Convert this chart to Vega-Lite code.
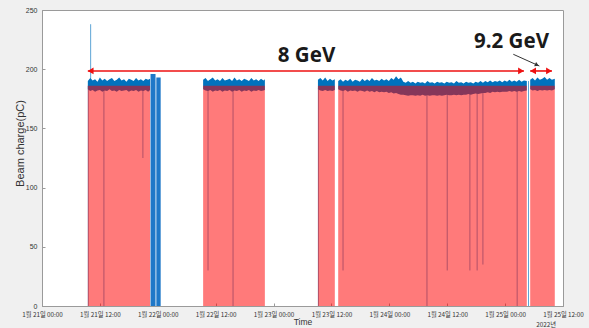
{
  "$schema": "https://vega.github.io/schema/vega-lite/v6.json",
  "width": 521,
  "height": 296,
  "autosize": "none",
  "padding": {"left": 42, "top": 10, "right": 26, "bottom": 22},
  "background": "#f0f0f0",
  "config": {
    "view": {"fill": "white", "stroke": "#9a9a9a", "strokeWidth": 1},
    "axis": {"grid": false, "domainColor": "#9a9a9a", "tickColor": "#9a9a9a", "labelColor": "#333333", "titleColor": "#333333", "titleFontWeight": "normal"}
  },
  "datasets": {
    "band": [
      {"seg": "A", "t": "2022-01-21T09:30Z", "hi": 190, "lo": 183},
      {"seg": "A", "t": "2022-01-21T10:00Z", "hi": 192.5, "lo": 181.5},
      {"seg": "A", "t": "2022-01-21T10:30Z", "hi": 190.5, "lo": 182.5},
      {"seg": "A", "t": "2022-01-21T11:00Z", "hi": 191.5, "lo": 181},
      {"seg": "A", "t": "2022-01-21T11:30Z", "hi": 189.5, "lo": 182},
      {"seg": "A", "t": "2022-01-21T12:00Z", "hi": 193, "lo": 182.5},
      {"seg": "A", "t": "2022-01-21T12:30Z", "hi": 190.5, "lo": 181},
      {"seg": "A", "t": "2022-01-21T13:00Z", "hi": 192, "lo": 182},
      {"seg": "A", "t": "2022-01-21T13:30Z", "hi": 190, "lo": 181.5},
      {"seg": "A", "t": "2022-01-21T14:00Z", "hi": 191.5, "lo": 183},
      {"seg": "A", "t": "2022-01-21T14:30Z", "hi": 192.5, "lo": 181.5},
      {"seg": "A", "t": "2022-01-21T15:00Z", "hi": 190, "lo": 182},
      {"seg": "A", "t": "2022-01-21T15:30Z", "hi": 191, "lo": 181},
      {"seg": "A", "t": "2022-01-21T16:00Z", "hi": 193, "lo": 182.5},
      {"seg": "A", "t": "2022-01-21T16:30Z", "hi": 190.5, "lo": 181.5},
      {"seg": "A", "t": "2022-01-21T17:00Z", "hi": 191.5, "lo": 182},
      {"seg": "A", "t": "2022-01-21T17:30Z", "hi": 189.5, "lo": 182.5},
      {"seg": "A", "t": "2022-01-21T18:00Z", "hi": 192, "lo": 181},
      {"seg": "A", "t": "2022-01-21T18:30Z", "hi": 191, "lo": 182},
      {"seg": "A", "t": "2022-01-21T19:00Z", "hi": 190, "lo": 181.5},
      {"seg": "A", "t": "2022-01-21T19:30Z", "hi": 192.5, "lo": 182.5},
      {"seg": "A", "t": "2022-01-21T20:00Z", "hi": 190.5, "lo": 181},
      {"seg": "A", "t": "2022-01-21T20:30Z", "hi": 191.5, "lo": 182},
      {"seg": "A", "t": "2022-01-21T21:00Z", "hi": 190, "lo": 181.5},
      {"seg": "A", "t": "2022-01-21T21:30Z", "hi": 192, "lo": 182.5},
      {"seg": "A", "t": "2022-01-21T22:00Z", "hi": 191, "lo": 181},
      {"seg": "A", "t": "2022-01-21T22:24Z", "hi": 192, "lo": 182.5},
      {"seg": "B", "t": "2022-01-22T09:24Z", "hi": 191, "lo": 183},
      {"seg": "B", "t": "2022-01-22T09:54Z", "hi": 192.5, "lo": 182},
      {"seg": "B", "t": "2022-01-22T10:24Z", "hi": 190, "lo": 181.5},
      {"seg": "B", "t": "2022-01-22T10:54Z", "hi": 191.5, "lo": 182.5},
      {"seg": "B", "t": "2022-01-22T11:24Z", "hi": 193, "lo": 181},
      {"seg": "B", "t": "2022-01-22T11:54Z", "hi": 190.5, "lo": 182},
      {"seg": "B", "t": "2022-01-22T12:24Z", "hi": 191.5, "lo": 181.5},
      {"seg": "B", "t": "2022-01-22T12:54Z", "hi": 190, "lo": 182.5},
      {"seg": "B", "t": "2022-01-22T13:24Z", "hi": 192.5, "lo": 181},
      {"seg": "B", "t": "2022-01-22T13:54Z", "hi": 190.5, "lo": 182},
      {"seg": "B", "t": "2022-01-22T14:24Z", "hi": 191, "lo": 181.5},
      {"seg": "B", "t": "2022-01-22T14:54Z", "hi": 192, "lo": 182.5},
      {"seg": "B", "t": "2022-01-22T15:24Z", "hi": 190, "lo": 181},
      {"seg": "B", "t": "2022-01-22T15:54Z", "hi": 193, "lo": 182},
      {"seg": "B", "t": "2022-01-22T16:24Z", "hi": 190.5, "lo": 181.5},
      {"seg": "B", "t": "2022-01-22T16:54Z", "hi": 191.5, "lo": 182.5},
      {"seg": "B", "t": "2022-01-22T17:24Z", "hi": 190, "lo": 181},
      {"seg": "B", "t": "2022-01-22T17:54Z", "hi": 192, "lo": 182},
      {"seg": "B", "t": "2022-01-22T18:24Z", "hi": 191, "lo": 181.5},
      {"seg": "B", "t": "2022-01-22T18:54Z", "hi": 190, "lo": 182.5},
      {"seg": "B", "t": "2022-01-22T19:24Z", "hi": 192.5, "lo": 181},
      {"seg": "B", "t": "2022-01-22T19:54Z", "hi": 190.5, "lo": 182},
      {"seg": "B", "t": "2022-01-22T20:24Z", "hi": 191.5, "lo": 181.5},
      {"seg": "B", "t": "2022-01-22T20:54Z", "hi": 190, "lo": 182.5},
      {"seg": "B", "t": "2022-01-22T21:24Z", "hi": 192, "lo": 181.5},
      {"seg": "B", "t": "2022-01-22T21:54Z", "hi": 190.5, "lo": 182},
      {"seg": "B", "t": "2022-01-22T22:12Z", "hi": 191.5, "lo": 182.5},
      {"seg": "C", "t": "2022-01-23T09:12Z", "hi": 191, "lo": 183},
      {"seg": "C", "t": "2022-01-23T09:42Z", "hi": 192.5, "lo": 182},
      {"seg": "C", "t": "2022-01-23T10:12Z", "hi": 190.5, "lo": 181.5},
      {"seg": "C", "t": "2022-01-23T10:42Z", "hi": 193, "lo": 182.5},
      {"seg": "C", "t": "2022-01-23T11:12Z", "hi": 190, "lo": 181.5},
      {"seg": "C", "t": "2022-01-23T11:42Z", "hi": 192, "lo": 182},
      {"seg": "C", "t": "2022-01-23T12:12Z", "hi": 190.5, "lo": 181.5},
      {"seg": "C", "t": "2022-01-23T12:42Z", "hi": 191.5, "lo": 182.5},
      {"seg": "D", "t": "2022-01-23T13:24Z", "hi": 190, "lo": 183},
      {"seg": "D", "t": "2022-01-23T13:54Z", "hi": 191.5, "lo": 182},
      {"seg": "D", "t": "2022-01-23T14:24Z", "hi": 189.5, "lo": 181.5},
      {"seg": "D", "t": "2022-01-23T14:54Z", "hi": 191, "lo": 182.5},
      {"seg": "D", "t": "2022-01-23T15:24Z", "hi": 190, "lo": 181},
      {"seg": "D", "t": "2022-01-23T15:54Z", "hi": 192, "lo": 182},
      {"seg": "D", "t": "2022-01-23T16:24Z", "hi": 189.5, "lo": 181.5},
      {"seg": "D", "t": "2022-01-23T16:54Z", "hi": 191, "lo": 182},
      {"seg": "D", "t": "2022-01-23T17:24Z", "hi": 190.5, "lo": 181},
      {"seg": "D", "t": "2022-01-23T17:54Z", "hi": 189.5, "lo": 182},
      {"seg": "D", "t": "2022-01-23T18:24Z", "hi": 192, "lo": 181.5},
      {"seg": "D", "t": "2022-01-23T18:54Z", "hi": 190, "lo": 181},
      {"seg": "D", "t": "2022-01-23T19:24Z", "hi": 191.5, "lo": 182},
      {"seg": "D", "t": "2022-01-23T19:54Z", "hi": 190, "lo": 181},
      {"seg": "D", "t": "2022-01-23T20:24Z", "hi": 192.5, "lo": 181.5},
      {"seg": "D", "t": "2022-01-23T20:54Z", "hi": 190.5, "lo": 180.5},
      {"seg": "D", "t": "2022-01-23T21:24Z", "hi": 191, "lo": 181.5},
      {"seg": "D", "t": "2022-01-23T21:54Z", "hi": 190, "lo": 180.5},
      {"seg": "D", "t": "2022-01-23T22:24Z", "hi": 192, "lo": 181},
      {"seg": "D", "t": "2022-01-23T22:54Z", "hi": 190.5, "lo": 180.5},
      {"seg": "D", "t": "2022-01-23T23:24Z", "hi": 191.5, "lo": 181},
      {"seg": "D", "t": "2022-01-23T23:54Z", "hi": 190, "lo": 180},
      {"seg": "D", "t": "2022-01-24T00:24Z", "hi": 192.5, "lo": 180.5},
      {"seg": "D", "t": "2022-01-24T00:54Z", "hi": 191, "lo": 179.5},
      {"seg": "D", "t": "2022-01-24T01:24Z", "hi": 194, "lo": 180},
      {"seg": "D", "t": "2022-01-24T01:54Z", "hi": 191.5, "lo": 179},
      {"seg": "D", "t": "2022-01-24T02:24Z", "hi": 193, "lo": 178.5},
      {"seg": "D", "t": "2022-01-24T02:54Z", "hi": 189.5, "lo": 178.5},
      {"seg": "D", "t": "2022-01-24T03:24Z", "hi": 188.5, "lo": 178},
      {"seg": "D", "t": "2022-01-24T03:54Z", "hi": 190, "lo": 177.5},
      {"seg": "D", "t": "2022-01-24T04:24Z", "hi": 188.5, "lo": 178},
      {"seg": "D", "t": "2022-01-24T04:54Z", "hi": 189.5, "lo": 178},
      {"seg": "D", "t": "2022-01-24T05:24Z", "hi": 188, "lo": 177.5},
      {"seg": "D", "t": "2022-01-24T05:54Z", "hi": 189.5, "lo": 178},
      {"seg": "D", "t": "2022-01-24T06:24Z", "hi": 188.5, "lo": 177.5},
      {"seg": "D", "t": "2022-01-24T06:54Z", "hi": 189, "lo": 178.5},
      {"seg": "D", "t": "2022-01-24T07:24Z", "hi": 188, "lo": 177.5},
      {"seg": "D", "t": "2022-01-24T07:54Z", "hi": 190, "lo": 178},
      {"seg": "D", "t": "2022-01-24T08:24Z", "hi": 188.5, "lo": 177.5},
      {"seg": "D", "t": "2022-01-24T08:54Z", "hi": 189, "lo": 178},
      {"seg": "D", "t": "2022-01-24T09:24Z", "hi": 188, "lo": 178},
      {"seg": "D", "t": "2022-01-24T09:54Z", "hi": 189.5, "lo": 177.5},
      {"seg": "D", "t": "2022-01-24T10:24Z", "hi": 188.5, "lo": 178},
      {"seg": "D", "t": "2022-01-24T10:54Z", "hi": 189, "lo": 177.5},
      {"seg": "D", "t": "2022-01-24T11:24Z", "hi": 188, "lo": 178},
      {"seg": "D", "t": "2022-01-24T11:54Z", "hi": 189.5, "lo": 178.5},
      {"seg": "D", "t": "2022-01-24T12:24Z", "hi": 188.5, "lo": 178},
      {"seg": "D", "t": "2022-01-24T12:54Z", "hi": 189, "lo": 178},
      {"seg": "D", "t": "2022-01-24T13:24Z", "hi": 188, "lo": 178.5},
      {"seg": "D", "t": "2022-01-24T13:54Z", "hi": 190, "lo": 178},
      {"seg": "D", "t": "2022-01-24T14:24Z", "hi": 188.5, "lo": 178.5},
      {"seg": "D", "t": "2022-01-24T14:54Z", "hi": 189, "lo": 178},
      {"seg": "D", "t": "2022-01-24T15:24Z", "hi": 188, "lo": 178.5},
      {"seg": "D", "t": "2022-01-24T15:54Z", "hi": 189.5, "lo": 178.5},
      {"seg": "D", "t": "2022-01-24T16:24Z", "hi": 188.5, "lo": 179},
      {"seg": "D", "t": "2022-01-24T16:54Z", "hi": 189, "lo": 178.5},
      {"seg": "D", "t": "2022-01-24T17:24Z", "hi": 188, "lo": 179},
      {"seg": "D", "t": "2022-01-24T17:54Z", "hi": 189.5, "lo": 179.5},
      {"seg": "D", "t": "2022-01-24T18:24Z", "hi": 188.5, "lo": 179},
      {"seg": "D", "t": "2022-01-24T18:54Z", "hi": 190, "lo": 179.5},
      {"seg": "D", "t": "2022-01-24T19:24Z", "hi": 188.5, "lo": 180},
      {"seg": "D", "t": "2022-01-24T19:54Z", "hi": 190, "lo": 180},
      {"seg": "D", "t": "2022-01-24T20:24Z", "hi": 189, "lo": 180.5},
      {"seg": "D", "t": "2022-01-24T20:54Z", "hi": 190.5, "lo": 180},
      {"seg": "D", "t": "2022-01-24T21:24Z", "hi": 189, "lo": 181},
      {"seg": "D", "t": "2022-01-24T21:54Z", "hi": 190, "lo": 180.5},
      {"seg": "D", "t": "2022-01-24T22:24Z", "hi": 189.5, "lo": 181},
      {"seg": "D", "t": "2022-01-24T22:54Z", "hi": 190.5, "lo": 180.5},
      {"seg": "D", "t": "2022-01-24T23:24Z", "hi": 189, "lo": 181},
      {"seg": "D", "t": "2022-01-24T23:54Z", "hi": 190.5, "lo": 181},
      {"seg": "D", "t": "2022-01-25T00:24Z", "hi": 189.5, "lo": 181},
      {"seg": "D", "t": "2022-01-25T00:54Z", "hi": 191, "lo": 181.5},
      {"seg": "D", "t": "2022-01-25T01:24Z", "hi": 189.5, "lo": 181},
      {"seg": "D", "t": "2022-01-25T01:54Z", "hi": 190.5, "lo": 181.5},
      {"seg": "D", "t": "2022-01-25T02:24Z", "hi": 189.5, "lo": 181},
      {"seg": "D", "t": "2022-01-25T02:54Z", "hi": 191, "lo": 181.5},
      {"seg": "D", "t": "2022-01-25T03:24Z", "hi": 189.5, "lo": 181},
      {"seg": "D", "t": "2022-01-25T03:54Z", "hi": 190.5, "lo": 181.5},
      {"seg": "D", "t": "2022-01-25T04:30Z", "hi": 190, "lo": 182},
      {"seg": "E", "t": "2022-01-25T05:12Z", "hi": 191, "lo": 183},
      {"seg": "E", "t": "2022-01-25T05:42Z", "hi": 192.5, "lo": 182},
      {"seg": "E", "t": "2022-01-25T06:12Z", "hi": 190.5, "lo": 182.5},
      {"seg": "E", "t": "2022-01-25T06:42Z", "hi": 193, "lo": 181.5},
      {"seg": "E", "t": "2022-01-25T07:12Z", "hi": 191, "lo": 182.5},
      {"seg": "E", "t": "2022-01-25T07:42Z", "hi": 192, "lo": 182},
      {"seg": "E", "t": "2022-01-25T08:12Z", "hi": 193.5, "lo": 182.5},
      {"seg": "E", "t": "2022-01-25T08:42Z", "hi": 191, "lo": 182},
      {"seg": "E", "t": "2022-01-25T09:12Z", "hi": 192.5, "lo": 182.5},
      {"seg": "E", "t": "2022-01-25T09:42Z", "hi": 191, "lo": 182},
      {"seg": "E", "t": "2022-01-25T10:18Z", "hi": 192, "lo": 183}
    ],
    "beam": [
      {"t": "2022-01-21T09:30Z", "t2": "2022-01-21T22:24Z", "top": 186},
      {"t": "2022-01-22T09:24Z", "t2": "2022-01-22T22:12Z", "top": 186},
      {"t": "2022-01-23T09:12Z", "t2": "2022-01-23T12:42Z", "top": 186},
      {"t": "2022-01-23T13:24Z", "t2": "2022-01-25T04:30Z", "top": 186},
      {"t": "2022-01-25T05:12Z", "t2": "2022-01-25T10:18Z", "top": 186}
    ],
    "strips": [
      {"t": "2022-01-21T22:30Z", "t2": "2022-01-21T23:32Z", "top": 196},
      {"t": "2022-01-21T23:42Z", "t2": "2022-01-22T00:36Z", "top": 193}
    ],
    "dips": [
      {"t": "2022-01-21T09:36Z", "lo": 0, "hi": 186},
      {"t": "2022-01-21T10:05Z", "lo": 186, "hi": 238},
      {"t": "2022-01-21T12:50Z", "lo": 0, "hi": 184},
      {"t": "2022-01-21T20:55Z", "lo": 125, "hi": 184},
      {"t": "2022-01-22T10:25Z", "lo": 30, "hi": 184},
      {"t": "2022-01-22T15:36Z", "lo": 0, "hi": 184},
      {"t": "2022-01-23T09:18Z", "lo": 0, "hi": 184},
      {"t": "2022-01-23T14:24Z", "lo": 30, "hi": 184},
      {"t": "2022-01-24T07:48Z", "lo": 0, "hi": 184},
      {"t": "2022-01-24T12:00Z", "lo": 30, "hi": 184},
      {"t": "2022-01-24T16:42Z", "lo": 30, "hi": 184},
      {"t": "2022-01-24T18:12Z", "lo": 30, "hi": 184},
      {"t": "2022-01-24T19:24Z", "lo": 35, "hi": 184},
      {"t": "2022-01-25T02:30Z", "lo": 0, "hi": 184},
      {"t": "2022-01-25T04:51Z", "lo": 0, "hi": 190}
    ],
    "arrows": [
      {"seg": "8 GeV", "t": "2022-01-21T09:30Z", "v": 198.5},
      {"seg": "8 GeV", "t": "2022-01-25T03:54Z", "v": 198.5},
      {"seg": "9.2 GeV", "t": "2022-01-25T05:12Z", "v": 198.5},
      {"seg": "9.2 GeV", "t": "2022-01-25T09:42Z", "v": 198.5}
    ],
    "heads": [
      {"t": "2022-01-21T10:05Z", "v": 198.5, "dir": "left"},
      {"t": "2022-01-25T03:18Z", "v": 198.5, "dir": "right"},
      {"t": "2022-01-25T05:48Z", "v": 198.5, "dir": "left"},
      {"t": "2022-01-25T09:06Z", "v": 198.5, "dir": "right"}
    ],
    "pointer": [
      {"t": "2022-01-25T01:42Z", "v": 212.6},
      {"t": "2022-01-25T07:06Z", "v": 202.7}
    ],
    "pointerHead": [
      {"t": "2022-01-25T06:36Z", "v": 203.6}
    ],
    "labels": [
      {"t": "2022-01-23T06:50Z", "v": 206, "text": "8 GeV"},
      {"t": "2022-01-25T01:20Z", "v": 217.7, "text": "9.2 GeV"}
    ],
    "axisNote": [
      {"t": "2022-01-25T08:30Z", "v": -16.3, "text": "2022년"}
    ]
  },
  "layer": [
    {
      "data": {"name": "band"},
      "mark": {"type": "area", "color": "#0072bd", "opacity": 1},
      "encoding": {
        "x": {
          "field": "t", "type": "temporal",
          "scale": {"type": "utc", "nice": false, "domain": [
            {"year": 2022, "month": 1, "date": 21, "hours": 0, "utc": true},
            {"year": 2022, "month": 1, "date": 25, "hours": 12, "utc": true}
          ]},
          "axis": {
            "title": "Time", "titleFont": "Liberation Sans", "titleFontSize": 8.5, "titlePadding": 0,
            "labelFont": "Noto Sans CJK KR", "labelFontSize": 6.3, "labelPadding": 8, "tickSize": -3,
            "labelOverlap": false, "labelFlush": false,
            "values": [
              {"year": 2022, "month": 1, "date": 21, "hours": 0, "utc": true},
              {"year": 2022, "month": 1, "date": 21, "hours": 12, "utc": true},
              {"year": 2022, "month": 1, "date": 22, "hours": 0, "utc": true},
              {"year": 2022, "month": 1, "date": 22, "hours": 12, "utc": true},
              {"year": 2022, "month": 1, "date": 23, "hours": 0, "utc": true},
              {"year": 2022, "month": 1, "date": 23, "hours": 12, "utc": true},
              {"year": 2022, "month": 1, "date": 24, "hours": 0, "utc": true},
              {"year": 2022, "month": 1, "date": 24, "hours": 12, "utc": true},
              {"year": 2022, "month": 1, "date": 25, "hours": 0, "utc": true},
              {"year": 2022, "month": 1, "date": 25, "hours": 12, "utc": true}
            ],
            "labelExpr": "utcFormat(datum.value, '%-m') + '월 ' + utcFormat(datum.value, '%-d') + '일 ' + utcFormat(datum.value, '%H:%M')"
          }
        },
        "y": {
          "field": "hi", "type": "quantitative",
          "scale": {"domain": [0, 250], "nice": false},
          "axis": {
            "title": "Beam charge(pC)", "titleFont": "Liberation Sans", "titleFontSize": 11, "titlePadding": 0, "titleY": 133,
            "labelFont": "Liberation Sans", "labelFontSize": 7, "labelPadding": 8, "tickSize": -3,
            "values": [0, 50, 100, 150, 200, 250]
          }
        },
        "y2": {"field": "lo"},
        "detail": {"field": "seg"}
      }
    },
    {
      "mark": {"type": "rule", "color": "#3d8fd1", "strokeWidth": 1.2},
      "encoding": {"y": {"datum": 0}}
    },
    {
      "data": {"name": "dips"},
      "mark": {"type": "rule", "color": "#0072bd", "strokeWidth": 0.8, "opacity": 0.8},
      "encoding": {
        "x": {"field": "t", "type": "temporal"},
        "y": {"field": "lo", "type": "quantitative"},
        "y2": {"field": "hi"}
      }
    },
    {
      "data": {"name": "strips"},
      "mark": {"type": "rect", "color": "#1f78c8"},
      "encoding": {
        "x": {"field": "t", "type": "temporal"},
        "x2": {"field": "t2"},
        "y": {"field": "top", "type": "quantitative"},
        "y2": {"datum": 0}
      }
    },
    {
      "data": {"name": "beam"},
      "mark": {"type": "rect", "color": "#ff0000", "opacity": 0.52},
      "encoding": {
        "x": {"field": "t", "type": "temporal"},
        "x2": {"field": "t2"},
        "y": {"field": "top", "type": "quantitative"},
        "y2": {"datum": 0}
      }
    },
    {
      "data": {"name": "arrows"},
      "mark": {"type": "line", "color": "#ee1111", "strokeWidth": 1.6},
      "encoding": {
        "x": {"field": "t", "type": "temporal"},
        "y": {"field": "v", "type": "quantitative"},
        "detail": {"field": "seg"}
      }
    },
    {
      "data": {"name": "heads"},
      "transform": [{"filter": "datum.dir === 'left'"}],
      "mark": {"type": "point", "shape": "triangle-left", "filled": true, "color": "#ee1111", "opacity": 1, "size": 45},
      "encoding": {
        "x": {"field": "t", "type": "temporal"},
        "y": {"field": "v", "type": "quantitative"}
      }
    },
    {
      "data": {"name": "heads"},
      "transform": [{"filter": "datum.dir === 'right'"}],
      "mark": {"type": "point", "shape": "triangle-right", "filled": true, "color": "#ee1111", "opacity": 1, "size": 45},
      "encoding": {
        "x": {"field": "t", "type": "temporal"},
        "y": {"field": "v", "type": "quantitative"}
      }
    },
    {
      "data": {"name": "pointer"},
      "mark": {"type": "line", "color": "#333333", "strokeWidth": 1},
      "encoding": {
        "x": {"field": "t", "type": "temporal"},
        "y": {"field": "v", "type": "quantitative"}
      }
    },
    {
      "data": {"name": "pointerHead"},
      "mark": {"type": "point", "shape": "triangle-right", "filled": true, "color": "#333333", "opacity": 1, "size": 22, "angle": 25},
      "encoding": {
        "x": {"field": "t", "type": "temporal"},
        "y": {"field": "v", "type": "quantitative"}
      }
    },
    {
      "data": {"name": "labels"},
      "mark": {"type": "text", "font": "Noto Sans", "fontWeight": "bold", "fontSize": 20.5, "color": "#1a1a1a", "align": "center", "baseline": "alphabetic"},
      "encoding": {
        "x": {"field": "t", "type": "temporal"},
        "y": {"field": "v", "type": "quantitative"},
        "text": {"field": "text"}
      }
    },
    {
      "data": {"name": "axisNote"},
      "mark": {"type": "text", "font": "Noto Sans CJK KR", "fontSize": 6.3, "color": "#333333", "align": "center", "baseline": "middle"},
      "encoding": {
        "x": {"field": "t", "type": "temporal"},
        "y": {"field": "v", "type": "quantitative"},
        "text": {"field": "text"}
      }
    }
  ]
}
